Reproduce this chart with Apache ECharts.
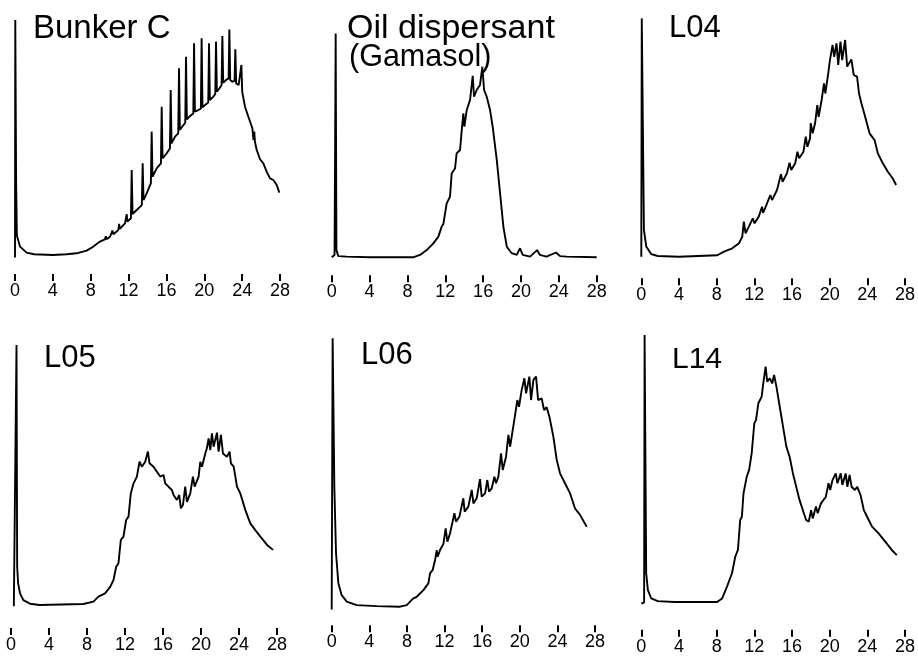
<!DOCTYPE html>
<html>
<head>
<meta charset="utf-8">
<script src="https://cdn.jsdelivr.net/npm/echarts@6/dist/echarts.min.js"></script>
<style>html,body{margin:0;padding:0;background:#fff}#c{width:918px;height:658px}</style>
</head>
<body>
<div id="c"></div>
<script>
// Retention time (min) tick labels
const xTicks = [0, 4, 8, 12, 16, 20, 24, 28];
// Panel titles
const titles = ['Bunker C', 'Oil dispersant', 'L04', 'L05', 'L06', 'L14'];
const subTitle = '(Gamasol)';

// Chromatogram traces: [retention time, relative response]
const bunkerC = [[0,-1],[0.03,97.9],[0.12,30],[0.2,8],[0.53,3.5],[1.23,1],[2,0.3],[4,0],[5.46,0.3],[6.5,0.7],[7.57,1.8],[8.28,3.5],[8.98,5.6],[9.5,6.5],[9.6,7.8],[9.68,6.6],[10.04,7.6],[10.3,10.2],[10.38,8.6],[10.92,10.4],[11.0,13],[11.08,10.9],[11.62,13.2],[11.8,17],[11.88,13.9],[12.25,15.3],[12.33,35.4],[12.42,17.1],[12.86,18.75],[13.4,20.8],[13.49,38.2],[13.58,22.9],[13.91,25.7],[14.36,29.9],[14.44,51.4],[14.53,32.6],[14.97,36.1],[15.42,38.2],[15.5,61.8],[15.59,40.3],[16.03,42.4],[16.37,44.4],[16.45,68.75],[16.54,46.5],[16.91,49.3],[17.25,50.7],[17.33,77.8],[17.42,52.1],[17.72,53.75],[17.99,55.1],[18.07,82.6],[18.16,56.5],[18.49,57.9],[18.84,59],[18.92,88.2],[19.01,59.7],[19.37,60.4],[19.64,61],[19.72,90.3],[19.81,61.5],[20.08,62.5],[20.42,63.5],[20.5,88.2],[20.59,64.6],[20.96,66],[21.16,67.1],[21.24,88.9],[21.33,68],[21.59,69.4],[21.83,70.8],[21.91,91.25],[22,71.8],[22.3,72.9],[22.57,73.6],[22.65,94],[22.74,72.9],[22.97,72.2],[23.2,72.6],[23.28,85.7],[23.37,71.5],[23.63,70.8],[23.84,70.4],[23.92,79.2],[24.01,68],[24.3,61.8],[24.66,57.6],[25.08,52.8],[25.2,47.9],[25.28,51.4],[25.36,47],[25.54,43.75],[25.89,39.9],[26.24,38.2],[26.59,34.7],[26.95,31.9],[27.3,31.25],[27.65,29.2],[27.93,26]];

const gamasol = [[0,0],[0.3,1],[0.36,45],[0.42,93.3],[0.5,3],[0.7,0.5],[1.58,0.3],[4,0],[8.6,0],[9.33,1],[10.04,3],[10.74,5.8],[11.27,8.6],[11.62,12.8],[11.8,13.9],[12.15,22.5],[12.5,25.3],[12.68,35],[13.03,37],[13.2,43.3],[13.56,44.7],[13.74,53],[13.91,60],[14.02,54.4],[14.27,61.4],[14.62,65.6],[14.9,75.6],[15.04,66.9],[15.32,69.7],[15.67,71.8],[15.92,79.4],[16.1,69.7],[16.38,66.9],[16.73,61.4],[17.01,54.4],[17.44,40.6],[17.79,26.7],[18.14,12.8],[18.5,4.4],[19.02,1.7],[19.55,1],[19.9,3.75],[20.18,1],[20.96,0.3],[21.7,3],[22,1],[22.7,0.3],[23.7,2],[24.13,0.5],[24.83,0.3],[28,0]];

const l04 = [[0,0],[0.05,99.3],[0.28,11.1],[0.53,4.2],[1.05,1.1],[1.76,0.3],[4,0],[8.08,0.6],[8.78,2.1],[9.66,3.5],[10.37,5.6],[10.72,8.3],[10.89,14.6],[11.07,9.7],[11.42,12.5],[11.84,16],[12.02,13.9],[12.47,16.7],[12.82,20.8],[12.93,18.3],[13.28,21.5],[13.7,25.7],[13.88,23.6],[14.41,27.8],[14.83,34.4],[15,31.25],[15.46,34.7],[15.74,39.2],[15.92,36.1],[16.34,38.9],[16.58,43.75],[16.76,41],[17.22,43.75],[17.46,50],[17.64,45.8],[17.92,49.3],[17.99,55.6],[18.2,51.4],[18.45,55.6],[18.69,63.2],[18.83,58.3],[19.15,65.3],[19.4,72.2],[19.54,68],[19.85,76.4],[20.03,81.9],[20.31,88.2],[20.48,83.3],[20.73,88.9],[20.91,79.9],[21.15,89.6],[21.33,81.9],[21.64,90.3],[21.86,79.2],[22.31,82.2],[22.56,75.7],[22.91,75],[23.12,68],[23.37,63.9],[23.72,59],[24.24,51.4],[24.77,48.6],[25.12,43],[25.65,38.9],[26.18,35.4],[26.7,32.6],[27.06,29.9]];

const l05 = [[0.3,-0.5],[0.5,0],[0.58,100],[0.65,14.7],[0.75,8.3],[0.95,4.5],[1.3,1.9],[2,0.5],[3,0],[7.62,0.4],[8.68,1.3],[9.2,3.2],[9.38,2.6],[9.9,4.5],[10.44,7],[10.79,9.6],[11.07,14.7],[11.31,16],[11.56,25],[11.84,26.3],[12.12,32.7],[12.37,34],[12.61,42.9],[12.9,46.8],[13.25,49.4],[13.53,55.1],[13.77,53.2],[14.13,55.1],[14.41,59],[14.58,54.5],[15,53.2],[15.35,51.3],[15.71,49.4],[16.06,50],[16.23,46.8],[16.58,45.5],[16.94,44.2],[17.11,42.3],[17.46,40.4],[17.71,42.3],[17.88,37.2],[18.1,38.5],[18.34,45.5],[18.52,39.7],[18.87,42.9],[19.15,49.4],[19.33,45.5],[19.75,49.4],[19.92,55.1],[20.1,53.2],[20.45,58.3],[20.62,60.3],[20.8,64.1],[20.98,59.6],[21.15,66],[21.33,60.9],[21.68,66.3],[21.85,59],[22.1,65.4],[22.31,58.3],[22.73,57],[23.01,59],[23.15,54.5],[23.44,53.2],[23.79,45.5],[24.14,42.9],[24.67,36.5],[25.19,31.4],[25.72,28.8],[26.25,26.3],[26.95,23.1],[27.58,21.2]];

const l06 = [[0,-1],[0.1,100],[0.28,44.7],[0.46,19.9],[0.71,8.7],[1.06,4.3],[1.6,1.9],[2.66,0.6],[4.79,0.2],[7.27,0],[7.98,0.6],[8.68,3.1],[9.04,3.7],[9.75,6.2],[10.28,8.7],[10.46,12.4],[10.74,13.7],[10.99,17.4],[11.17,21.1],[11.27,18.6],[11.52,21.1],[11.88,23.4],[12.12,29.2],[12.3,24.2],[12.58,27.3],[13.05,34.8],[13.22,31.7],[13.58,33.5],[14,40.4],[14.14,35.4],[14.53,37.3],[14.89,43.5],[15.07,38.5],[15.42,40.4],[15.77,47.5],[15.95,41],[16.31,42.2],[16.55,47.2],[16.73,42.9],[17.02,44.1],[17.3,48.4],[17.48,46],[17.72,48.4],[18.01,57.1],[18.19,50.9],[18.54,55.9],[18.79,64],[18.97,59.6],[19.25,65.8],[19.5,71.4],[19.74,77],[19.92,74.5],[20.2,80.7],[20.49,85.1],[20.67,79.5],[21.02,85.7],[21.2,77],[21.45,84.5],[21.73,85.7],[21.95,77],[22.33,77.6],[22.58,73.3],[22.86,74.3],[23.15,70.8],[23.57,63.4],[23.93,54.7],[24.28,49.7],[24.81,46],[25.35,42.2],[25.88,36.6],[26.41,34.2],[27.12,29.8]];

const l14 = [[0,-0.3],[0.3,0],[0.35,100],[0.52,11],[0.7,4.7],[1.05,1.6],[1.75,0.6],[3.5,0.25],[8.05,0.25],[8.58,1.6],[9.1,6],[9.63,11],[9.98,17.2],[10.26,19.7],[10.5,30.9],[10.68,32.1],[10.85,40.8],[11.2,47.1],[11.45,49.6],[11.72,55.8],[12,67],[12.18,68.2],[12.43,74.5],[12.78,77],[12.95,81.9],[13.2,88.2],[13.37,82.6],[13.65,83.8],[13.9,81.9],[14.1,85.1],[14.35,80.7],[14.7,73.2],[15.05,65.8],[15.4,58.3],[15.75,54.5],[16.1,48.3],[16.45,43.3],[16.8,38.4],[17.15,34.6],[17.5,30.9],[17.78,30.3],[18.03,34.6],[18.2,31.5],[18.55,35.9],[18.73,33.4],[19.08,37.1],[19.6,39.6],[19.88,44.6],[20.06,42.1],[20.3,45.8],[20.65,48.3],[20.83,44.6],[21.18,48.3],[21.35,44],[21.7,48.3],[21.88,43.3],[22.12,47.7],[22.33,43.3],[22.68,42.1],[22.93,43.3],[23.28,40.2],[23.63,34.6],[23.98,32.1],[24.5,28.4],[25.2,25.9],[25.9,22.8],[26.6,19.7],[27.13,17.8]];

const traces = [bunkerC, gamasol, l04, l05, l06, l14];

// layout (pixels)
const grids = [
  {left: 15, top: 15, width: 265, height: 240},
  {left: 331.7, top: 17.3, width: 265, height: 240},
  {left: 641.3, top: 16.7, width: 265.7, height: 240},
  {left: 11, top: 345, width: 266, height: 260},
  {left: 331.7, top: 338.3, width: 263.3, height: 268.4},
  {left: 641.3, top: 335, width: 266.7, height: 267.7}
];
const axisOffsets = [19, 18, 21.5, 23, 18.5, 27];
const titleStyle = [
  {left: 33, top: 12, size: 33}, {left: 347, top: 12, size: 34}, {left: 669, top: 13, size: 31},
  {left: 44, top: 343, size: 31}, {left: 361, top: 340, size: 31}, {left: 672, top: 345, size: 30}
];

const FONT = '"Liberation Sans", Arial, sans-serif';
const chart = echarts.init(document.getElementById('c'), null, {renderer: 'canvas'});

const option = {
  animation: false,
  backgroundColor: '#fff',
  title: titles.map((t, i) => ({
    text: t, left: titleStyle[i].left, top: titleStyle[i].top, padding: 0,
    textStyle: {fontSize: titleStyle[i].size, fontWeight: 'normal', color: '#000', fontFamily: FONT}
  })).concat([{
    text: subTitle, left: 349, top: 42, padding: 0,
    textStyle: {fontSize: 30.5, fontWeight: 'normal', color: '#000', fontFamily: FONT}
  }]),
  grid: grids.map(g => Object.assign({containLabel: false}, g)),
  xAxis: grids.map((g, i) => ({
    type: 'value', gridIndex: i, min: xTicks[0], max: xTicks[xTicks.length - 1], interval: 4,
    position: 'bottom', offset: axisOffsets[i],
    axisLine: {show: false, onZero: false},
    axisTick: {show: true, inside: false, length: 7, lineStyle: {color: '#000', width: 2}},
    splitLine: {show: false},
    axisLabel: {show: true, margin: 8, fontSize: 18, color: '#000', fontFamily: FONT}
  })),
  yAxis: grids.map((g, i) => ({
    type: 'value', gridIndex: i, min: 0, max: 100, show: false,
    splitLine: {show: false}
  })),
  series: traces.map((d, i) => ({
    type: 'line', xAxisIndex: i, yAxisIndex: i, data: d,
    symbol: 'none', clip: false, smooth: false,
    lineStyle: {color: '#000', width: 1.9}
  }))
};
chart.setOption(option);
</script>
</body>
</html>
